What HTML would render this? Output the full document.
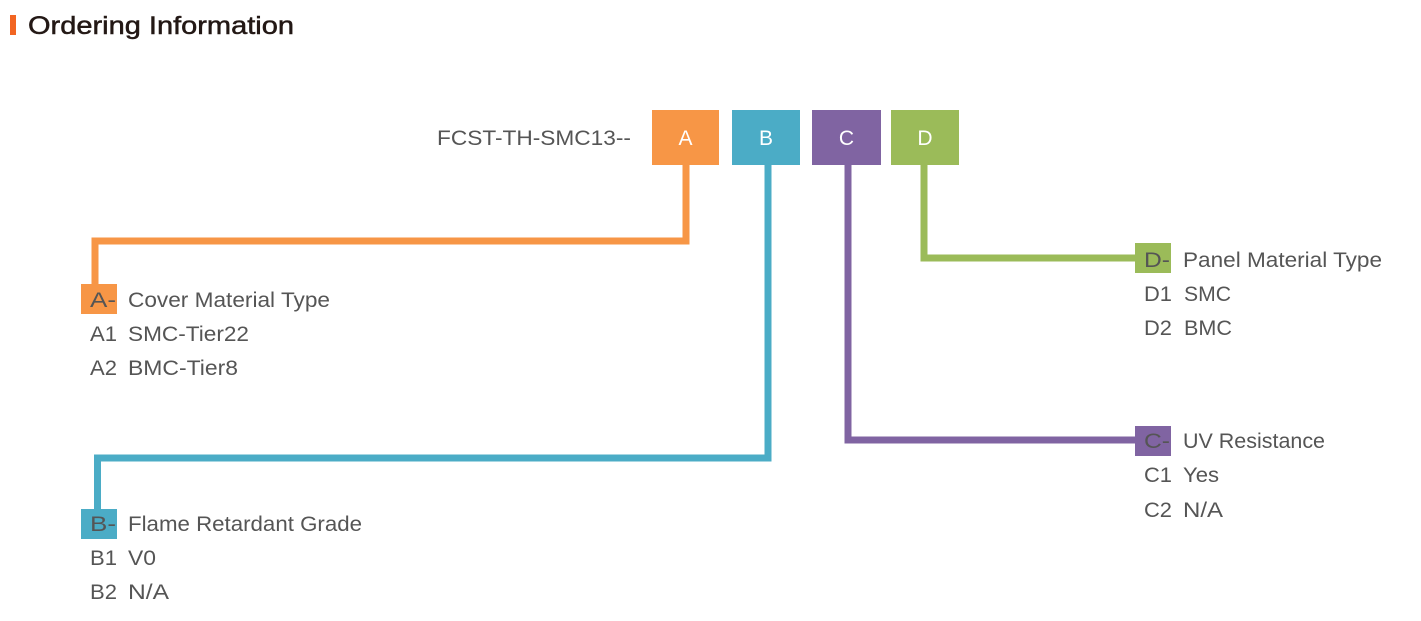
<!DOCTYPE html>
<html><head><meta charset="utf-8"><style>
html,body{margin:0;padding:0;background:#fff;width:1421px;height:621px;overflow:hidden}
svg text{font-family:"Liberation Sans",sans-serif}
</style></head><body>
<svg width="1421" height="621" viewBox="0 0 1421 621" xmlns="http://www.w3.org/2000/svg">
<rect x="10" y="15" width="6" height="20" fill="#f26522"/>
<text x="28" y="34" font-size="25" fill="#231815" stroke="#231815" stroke-width="0.5" textLength="266" lengthAdjust="spacingAndGlyphs">Ordering Information</text>
<text x="437" y="145" font-size="21" fill="#555" textLength="194" lengthAdjust="spacingAndGlyphs">FCST-TH-SMC13--</text>
<rect x="652" y="110" width="67" height="55" fill="#f79646"/>
<rect x="732" y="110" width="68" height="55" fill="#4bacc6"/>
<rect x="812" y="110" width="69" height="55" fill="#8064a2"/>
<rect x="891" y="110" width="68" height="55" fill="#9bbb59"/>
<g font-size="21" fill="#fff" text-anchor="middle">
<text x="685.5" y="145">A</text><text x="766" y="145">B</text><text x="846.5" y="145">C</text><text x="925" y="145">D</text>
</g>
<g fill="none" stroke-width="7" stroke-linejoin="miter">
<polyline points="686,165 686,241 95,241 95,285" stroke="#f79646"/>
<polyline points="768,165 768,458 97.5,458 97.5,510" stroke="#4bacc6"/>
<polyline points="848,165 848,440 1140,440" stroke="#8064a2"/>
<polyline points="924,165 924,258 1140,258" stroke="#9bbb59"/>
</g>
<rect x="81" y="284" width="36" height="30" fill="#f79646"/>
<rect x="81" y="509" width="36" height="30" fill="#4bacc6"/>
<rect x="1135" y="426" width="36" height="30" fill="#8064a2"/>
<rect x="1135" y="243" width="36" height="30" fill="#9bbb59"/>
<g font-size="21" fill="#555" lengthAdjust="spacingAndGlyphs">
<text x="90" y="307" textLength="26" lengthAdjust="spacingAndGlyphs">A-</text><text x="128" y="307" textLength="202" lengthAdjust="spacingAndGlyphs">Cover Material Type</text>
<text x="90" y="341" textLength="27" lengthAdjust="spacingAndGlyphs">A1</text><text x="128" y="341" textLength="121" lengthAdjust="spacingAndGlyphs">SMC-Tier22</text>
<text x="90" y="375" textLength="27" lengthAdjust="spacingAndGlyphs">A2</text><text x="128" y="375" textLength="110" lengthAdjust="spacingAndGlyphs">BMC-Tier8</text>
<text x="90" y="531" textLength="26" lengthAdjust="spacingAndGlyphs">B-</text><text x="128" y="531" textLength="234" lengthAdjust="spacingAndGlyphs">Flame Retardant Grade</text>
<text x="90" y="565" textLength="27" lengthAdjust="spacingAndGlyphs">B1</text><text x="128" y="565" textLength="28" lengthAdjust="spacingAndGlyphs">V0</text>
<text x="90" y="599" textLength="27" lengthAdjust="spacingAndGlyphs">B2</text><text x="128" y="599" textLength="41" lengthAdjust="spacingAndGlyphs">N/A</text>
<text x="1144" y="267" textLength="26" lengthAdjust="spacingAndGlyphs">D-</text><text x="1183" y="267" textLength="199" lengthAdjust="spacingAndGlyphs">Panel Material Type</text>
<text x="1144" y="301" textLength="28" lengthAdjust="spacingAndGlyphs">D1</text><text x="1184" y="301" textLength="47" lengthAdjust="spacingAndGlyphs">SMC</text>
<text x="1144" y="335" textLength="28" lengthAdjust="spacingAndGlyphs">D2</text><text x="1184" y="335" textLength="48" lengthAdjust="spacingAndGlyphs">BMC</text>
<text x="1144" y="448" textLength="26" lengthAdjust="spacingAndGlyphs">C-</text><text x="1183" y="448" textLength="142" lengthAdjust="spacingAndGlyphs">UV Resistance</text>
<text x="1144" y="482" textLength="28" lengthAdjust="spacingAndGlyphs">C1</text><text x="1183" y="482" textLength="36" lengthAdjust="spacingAndGlyphs">Yes</text>
<text x="1144" y="517" textLength="28" lengthAdjust="spacingAndGlyphs">C2</text><text x="1183" y="517" textLength="40" lengthAdjust="spacingAndGlyphs">N/A</text>
</g>
</svg>
</body></html>
